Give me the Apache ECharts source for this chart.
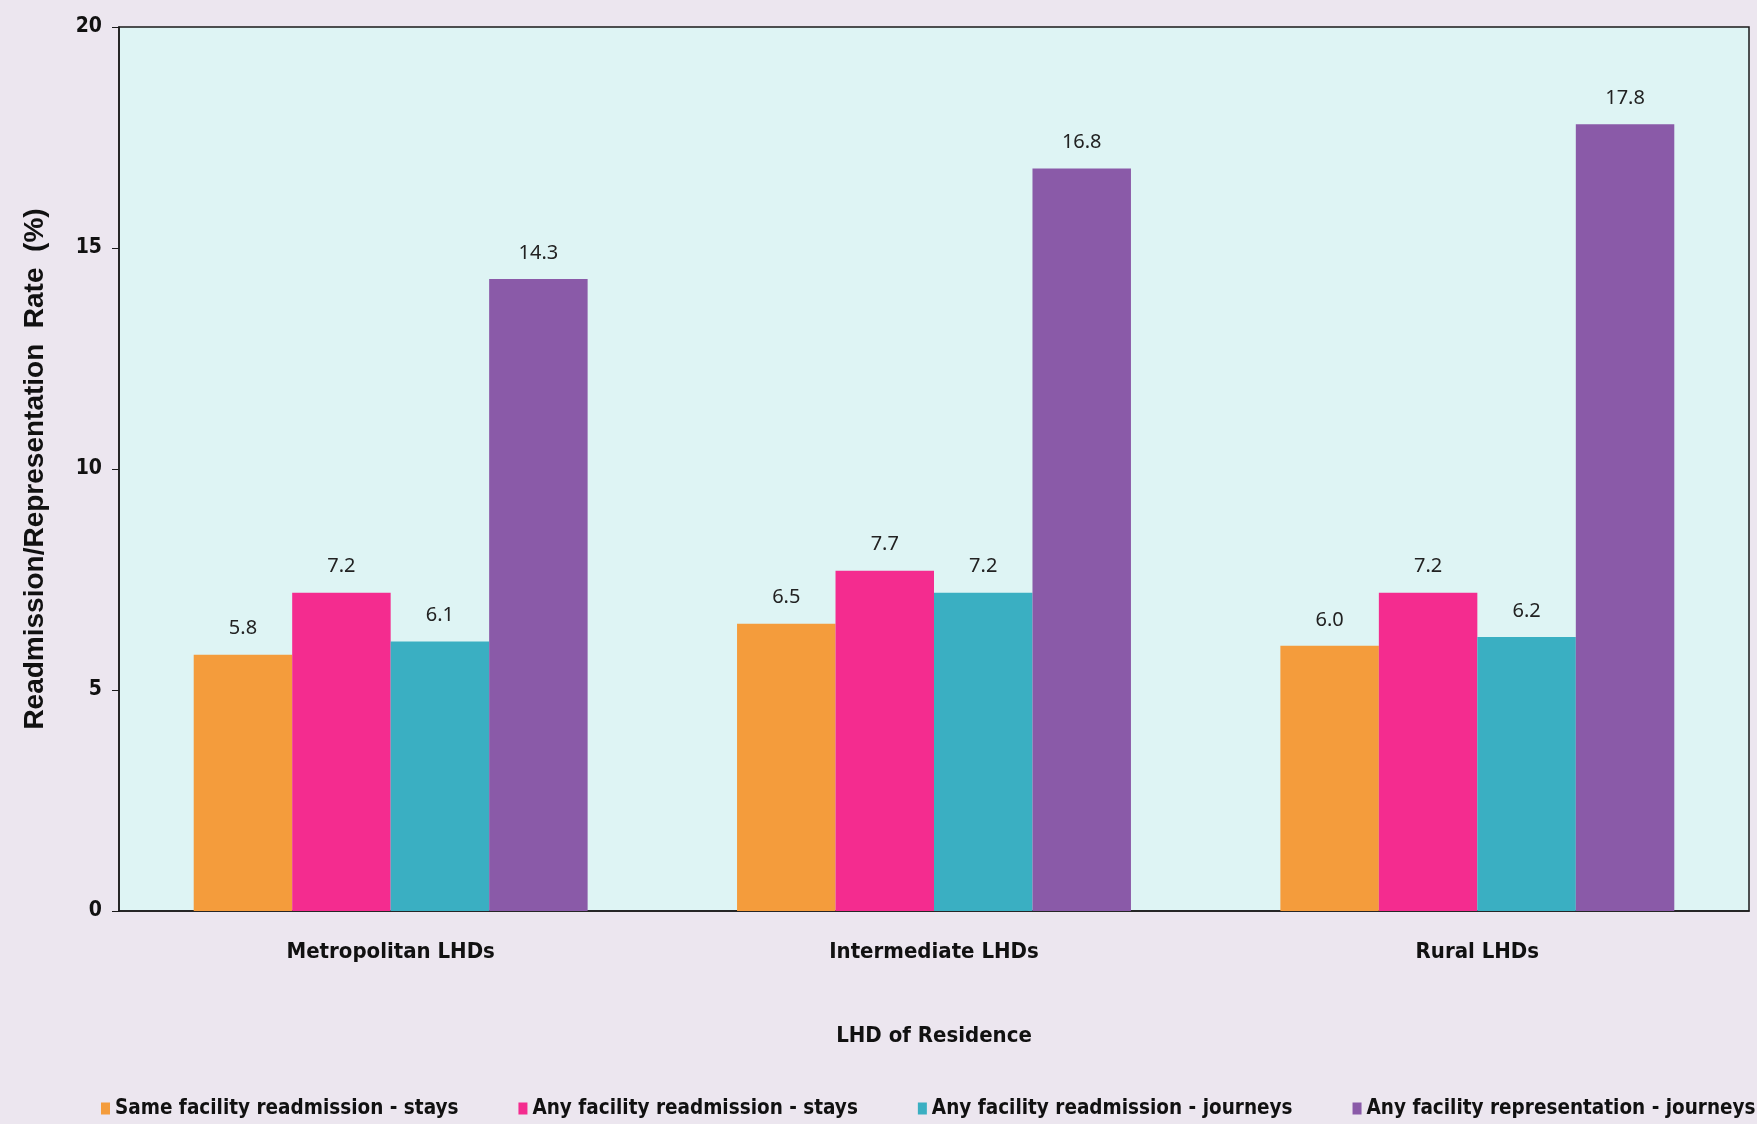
<!DOCTYPE html>
<html>
<head>
<meta charset="utf-8">
<script src="https://cdn.jsdelivr.net/npm/echarts@6/dist/echarts.min.js"></script>
<style>
  html, body { margin: 0; padding: 0; background: #ece6ef; }
  #chart { width: 1757px; height: 1124px; }
</style>
</head>
<body>
<div id="chart"></div>
<script>
var categories = ['Metropolitan LHDs', 'Intermediate LHDs', 'Rural LHDs'];
var seriesNames = [
  'Same facility readmission - stays',
  'Any facility readmission - stays',
  'Any facility readmission - journeys',
  'Any facility representation - journeys'
];
var sameStays = [5.8, 6.5, 6.0];
var anyStays = [7.2, 7.7, 7.2];
var anyJourneys = [6.1, 7.2, 6.2];
var representation = [14.3, 16.8, 17.8];
var yTicks = [0, 5, 10, 15, 20];

var colors = ['#f49c3c', '#f42c8f', '#3aafc2', '#8a5aa8'];
var values = [sameStays, anyStays, anyJourneys, representation];

var chart = echarts.init(document.getElementById('chart'));

// narrow bold look; falls back to condensed DejaVu
var narrow = "'Liberation Sans Narrow', 'DejaVu Sans Condensed', 'Liberation Sans', sans-serif";

var series = values.map(function (v, i) {
  return {
    name: seriesNames[i],
    type: 'bar',
    data: v,
    barGap: '0%',
    barCategoryGap: '27.5%',
    itemStyle: { color: colors[i] },
    label: {
      show: true,
      position: 'top',
      distance: 16,
      color: '#222',
      fontFamily: 'Noto Sans',
      fontSize: 20,
      formatter: function (p) { return p.value.toFixed(1); }
    }
  };
});

var option = {
  backgroundColor: '#ece6ef',
  animation: false,
  grid: {
    left: 119,
    right: 8,
    top: 27,
    bottom: 213,
    show: true,
    backgroundColor: '#def4f4',
    borderColor: '#1a1a1a',
    borderWidth: 1.5
  },
  legend: {
    data: seriesNames,
    left: 96,
    top: 1093,
    width: 1700,
    icon: 'rect',
    itemWidth: 9,
    itemHeight: 12,
    itemGap: 60,
    textStyle: {
      fontFamily: narrow,
      fontWeight: 'bold',
      fontSize: 20.5,
      color: '#111'
    }
  },
  xAxis: {
    type: 'category',
    data: categories,
    name: 'LHD of Residence',
    nameLocation: 'middle',
    nameGap: 114,
    nameTextStyle: {
      fontFamily: narrow,
      fontWeight: 'bold',
      fontSize: 22,
      color: '#111'
    },
    axisLine: { lineStyle: { color: '#1a1a1a', width: 1.5 } },
    axisTick: { length: 10, lineStyle: { color: '#1a1a1a' } },
    axisLabel: {
      margin: 30,
      fontFamily: narrow,
      fontWeight: 'bold',
      fontSize: 22,
      color: '#111'
    }
  },
  yAxis: {
    type: 'value',
    min: yTicks[0],
    max: yTicks[yTicks.length - 1],
    interval: 5,
    name: 'Readmission/Representation  Rate  (%)',
    nameLocation: 'middle',
    nameGap: 70,
    nameTextStyle: {
      fontFamily: 'Liberation Sans',
      fontWeight: 'bold',
      fontSize: 28,
      color: '#111'
    },
    axisLine: { show: true, lineStyle: { color: '#1a1a1a', width: 1.5 } },
    axisTick: { show: true, length: 7, lineStyle: { color: '#1a1a1a' } },
    splitLine: { show: false },
    axisLabel: {
      margin: 17,
      fontFamily: narrow,
      fontWeight: 'bold',
      fontSize: 21,
      color: '#111'
    }
  },
  series: series
};

chart.setOption(option);
</script>
</body>
</html>
